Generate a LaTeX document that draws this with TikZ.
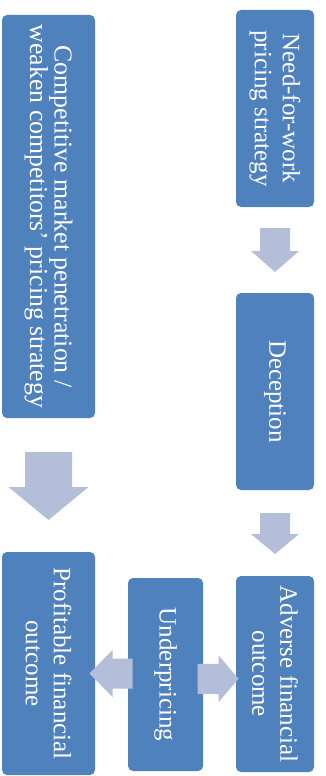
\documentclass[tikz,border=0pt]{standalone}
\usepackage{fontspec}
\setmainfont{Liberation Serif}
\usetikzlibrary{calc}
\definecolor{boxblue}{RGB}{79,129,189}
\definecolor{arrowgrey}{RGB}{180,190,216}
\tikzset{
  box/.style={fill=boxblue, rounded corners=5pt, inner sep=0pt, rotate=-90,
    align=center, text=white, font=\fontsize{25}{28}\selectfont},
  bigtext/.style={font=\fontsize{25.8}{24.5}\selectfont},
  blockarrow/.style={fill=arrowgrey}
}
\begin{document}
\begin{tikzpicture}[x=1pt,y=-1pt]
\useasboundingbox (0,0) rectangle (326,776);
% boxes (minimum width = vertical extent, minimum height = horizontal extent)
\node[box, bigtext, minimum width=403pt, minimum height=93pt] (comp) at (48.5,216.5)
  {Competitive market penetration /\\weaken competitors’ pricing strategy};
\node[box, minimum width=197pt, minimum height=78pt] (need) at (275,108.5)
  {Need-for-work\\pricing strategy};
\node[box, minimum width=197pt, minimum height=78pt] (dec) at (275,391.5)
  {Deception};
\node[box, minimum width=196pt, minimum height=78pt] (adv) at (275,674)
  {Adverse financial\\outcome};
\node[box, minimum width=193pt, minimum height=75pt] (under) at (165.5,674.5)
  {Underpricing};
\node[box, minimum width=223pt, minimum height=93pt] (prof) at (48.5,663.5)
  {Profitable financial\\outcome};
% block arrows
\coordinate (a1) at ($(need.east)!0.5!(dec.west)$);
\fill[blockarrow] ($(a1)+(-15,-22)$) -- ($(a1)+(15,-22)$) -- ($(a1)+(15,1)$)
  -- ($(a1)+(24,1)$) -- ($(a1)+(0,22)$) -- ($(a1)+(-24,1)$) -- ($(a1)+(-15,1)$) -- cycle;
\coordinate (a2) at ($(dec.east)!0.5!(adv.west)$);
\fill[blockarrow] ($(a2)+(-15,-20)$) -- ($(a2)+(15,-20)$) -- ($(a2)+(15,1)$)
  -- ($(a2)+(24,1)$) -- ($(a2)+(0,21)$) -- ($(a2)+(-24,1)$) -- ($(a2)+(-15,1)$) -- cycle;
\coordinate (a3) at ($(comp.east)!0.5!(prof.west)$);
\fill[blockarrow] ($(a3)+(-23.5,-33)$) -- ($(a3)+(23.5,-33)$) -- ($(a3)+(23.5,2)$)
  -- ($(a3)+(40,2)$) -- ($(a3)+(0,35)$) -- ($(a3)+(-40,2)$) -- ($(a3)+(-23.5,2)$) -- cycle;
\coordinate (a4) at ($(prof.north)!0.5!(under.south)+(0,4.5)$);
\fill[blockarrow] ($(a4)+(21,-15)$) -- ($(a4)+(21,15)$) -- ($(a4)+(1,15)$)
  -- ($(a4)+(1,23.5)$) -- ($(a4)+(-22,0)$) -- ($(a4)+(1,-23.5)$) -- ($(a4)+(1,-15)$) -- cycle;
\coordinate (a5) at ($(under.north)!0.5!(adv.south)+(0,4.5)$);
\fill[blockarrow] ($(a5)+(-22,-15)$) -- ($(a5)+(-22,15)$) -- ($(a5)+(-1,15)$)
  -- ($(a5)+(-1,23.5)$) -- ($(a5)+(19,0)$) -- ($(a5)+(-1,-23.5)$) -- ($(a5)+(-1,-15)$) -- cycle;
\end{tikzpicture}
\end{document}
